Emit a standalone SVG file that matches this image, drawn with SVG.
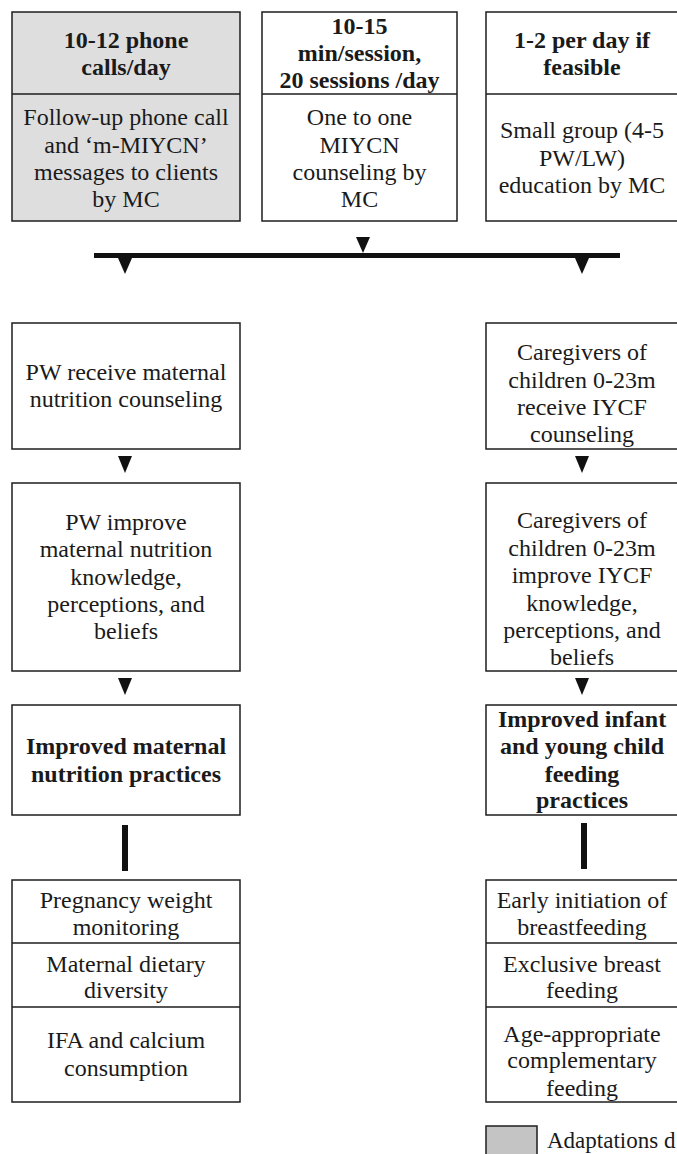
<svg xmlns="http://www.w3.org/2000/svg" width="677" height="1154" viewBox="0 0 677 1154">
<style>
.box{fill:#fff;stroke:#1e1e1e;stroke-width:1.5}
.shade{fill:#dedede}
.t{font-family:"Liberation Serif","Times New Roman",serif;font-size:24px;text-anchor:middle;fill:#1a1a1a}
.b{font-weight:bold}
.ah{fill:#111}
.div{stroke:#1e1e1e;stroke-width:1.5}
</style>
<rect width="677" height="1154" fill="#fff"/>
<g id="node-phone">
<rect class="box shade" x="12" y="12" width="228" height="209"/>
<line class="div" x1="12" y1="94" x2="240" y2="94"/>
<text class="t b" x="126" y="48">10-12 phone</text>
<text class="t b" x="126" y="75">calls/day</text>
<text class="t" x="126" y="125">Follow-up phone call</text>
<text class="t" x="126" y="153">and ‘m-MIYCN’</text>
<text class="t" x="126" y="180">messages to clients</text>
<text class="t" x="126" y="207">by MC</text>
</g>
<g id="node-one-to-one">
<rect class="box" x="262" y="12" width="195" height="209"/>
<line class="div" x1="262" y1="94" x2="457" y2="94"/>
<text class="t b" x="359.5" y="34">10-15</text>
<text class="t b" x="359.5" y="61">min/session,</text>
<text class="t b" x="359.5" y="88">20 sessions /day</text>
<text class="t" x="359.5" y="125">One to one</text>
<text class="t" x="359.5" y="153">MIYCN</text>
<text class="t" x="359.5" y="180">counseling by</text>
<text class="t" x="359.5" y="207">MC</text>
</g>
<g id="node-group">
<rect class="box" x="486" y="12" width="192" height="209"/>
<line class="div" x1="486" y1="94" x2="678" y2="94"/>
<text class="t b" x="582" y="48">1-2 per day if</text>
<text class="t b" x="582" y="75">feasible</text>
<text class="t" x="582" y="138">Small group (4-5</text>
<text class="t" x="582" y="166">PW/LW)</text>
<text class="t" x="582" y="193">education by MC</text>
</g>
<g id="node-pw-receive">
<rect class="box" x="12" y="323" width="228" height="126"/>
<text class="t" x="126" y="380">PW receive maternal</text>
<text class="t" x="126" y="407">nutrition counseling</text>
</g>
<g id="node-cg-receive">
<rect class="box" x="486" y="323" width="192" height="126"/>
<text class="t" x="582" y="360">Caregivers of</text>
<text class="t" x="582" y="388">children 0-23m</text>
<text class="t" x="582" y="415">receive IYCF</text>
<text class="t" x="582" y="442">counseling</text>
</g>
<g id="node-pw-improve">
<rect class="box" x="12" y="483" width="228" height="188"/>
<text class="t" x="126" y="530">PW improve</text>
<text class="t" x="126" y="557">maternal nutrition</text>
<text class="t" x="126" y="585">knowledge,</text>
<text class="t" x="126" y="612">perceptions, and</text>
<text class="t" x="126" y="639">beliefs</text>
</g>
<g id="node-cg-improve">
<rect class="box" x="486" y="483" width="192" height="188"/>
<text class="t" x="582" y="528">Caregivers of</text>
<text class="t" x="582" y="556">children 0-23m</text>
<text class="t" x="582" y="583">improve IYCF</text>
<text class="t" x="582" y="611">knowledge,</text>
<text class="t" x="582" y="638">perceptions, and</text>
<text class="t" x="582" y="665">beliefs</text>
</g>
<g id="node-maternal-practices">
<rect class="box" x="12" y="705" width="228" height="110"/>
<text class="t b" x="126" y="754">Improved maternal</text>
<text class="t b" x="126" y="782">nutrition practices</text>
</g>
<g id="node-iycf-practices">
<rect class="box" x="486" y="705" width="192" height="110"/>
<text class="t b" x="582" y="727">Improved infant</text>
<text class="t b" x="582" y="754">and young child</text>
<text class="t b" x="582" y="782">feeding</text>
<text class="t b" x="582" y="808">practices</text>
</g>
<g id="node-maternal-outcomes">
<rect class="box" x="12" y="880" width="228" height="222"/>
<line class="div" x1="12" y1="943" x2="240" y2="943"/>
<line class="div" x1="12" y1="1007" x2="240" y2="1007"/>
<text class="t" x="126" y="908">Pregnancy weight</text>
<text class="t" x="126" y="935">monitoring</text>
<text class="t" x="126" y="972">Maternal dietary</text>
<text class="t" x="126" y="998">diversity</text>
<text class="t" x="126" y="1048">IFA and calcium</text>
<text class="t" x="126" y="1076">consumption</text>
</g>
<g id="node-iycf-outcomes">
<rect class="box" x="486" y="880" width="192" height="222"/>
<line class="div" x1="486" y1="943" x2="678" y2="943"/>
<line class="div" x1="486" y1="1007" x2="678" y2="1007"/>
<text class="t" x="582" y="908">Early initiation of</text>
<text class="t" x="582" y="935">breastfeeding</text>
<text class="t" x="582" y="972">Exclusive breast</text>
<text class="t" x="582" y="998">feeding</text>
<text class="t" x="582" y="1042">Age-appropriate</text>
<text class="t" x="582" y="1068">complementary</text>
<text class="t" x="582" y="1096">feeding</text>
</g>
<g id="legend">
<rect x="486" y="1126" width="51" height="40" fill="#c4c4c4" stroke="#1e1e1e" stroke-width="1.5"/>
<text class="t" x="547" y="1148" style="text-anchor:start;font-size:23px">Adaptations d</text>
</g>
<g id="connectors">
<rect x="94" y="253" width="526" height="5" fill="#111"/>
<polygon class="ah" points="356,237 370,237 363,253"/>
<polygon class="ah" points="118,258 132,258 125,274"/>
<polygon class="ah" points="575,258 589,258 582,274"/>
<polygon class="ah" points="118,456 132,456 125,473"/>
<polygon class="ah" points="575,456 589,456 582,473"/>
<polygon class="ah" points="118,678 132,678 125,695"/>
<polygon class="ah" points="575,678 589,678 582,695"/>
<rect x="122" y="825" width="6" height="46" fill="#111"/>
<rect x="581" y="823" width="6" height="46" fill="#111"/>
</g>
</svg>
